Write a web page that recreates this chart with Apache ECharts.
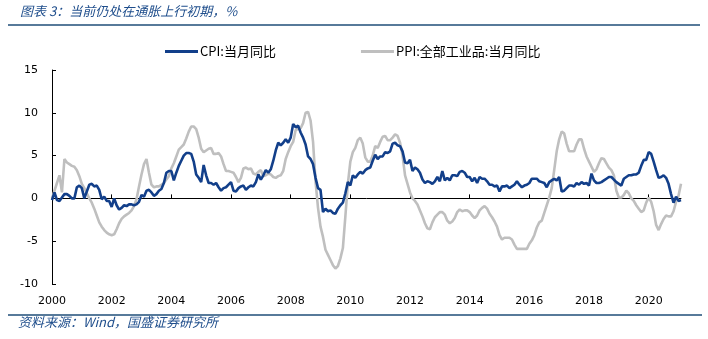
<!DOCTYPE html>
<html><head><meta charset="utf-8">
<script src="https://cdn.jsdelivr.net/npm/echarts@6/dist/echarts.min.js"></script>
<style>html,body{margin:0;padding:0;background:#fff}#c{width:708px;height:339px}</style>
</head><body><div id="c"></div>
<script>
const startYear = 2000;
const cpi = [
-0.2,0.7,-0.2,-0.3,0.1,0.5,0.5,0.3,0.0,0.0,1.3,1.5,
1.2,0.0,0.8,1.6,1.7,1.4,1.5,1.0,-0.1,0.2,-0.3,-0.3,
-1.0,0.0,-0.8,-1.3,-1.1,-0.8,-0.9,-0.7,-0.7,-0.8,-0.7,-0.4,
0.4,0.2,0.9,1.0,0.7,0.3,0.5,0.9,1.1,1.8,3.0,3.2,
3.2,2.1,3.0,3.8,4.4,5.0,5.3,5.3,5.2,4.3,2.8,2.4,
1.9,3.9,2.7,1.8,1.8,1.6,1.8,1.3,0.9,1.2,1.3,1.6,
1.9,0.9,0.8,1.2,1.4,1.5,1.0,1.3,1.5,1.4,1.9,2.8,
2.2,2.7,3.3,3.0,3.4,4.4,5.6,6.5,6.2,6.5,6.9,6.5,
7.1,8.7,8.3,8.5,7.7,7.1,6.3,4.9,4.6,4.0,2.4,1.2,
1.0,-1.6,-1.2,-1.5,-1.4,-1.7,-1.8,-1.2,-0.8,-0.5,0.6,1.9,
1.5,2.7,2.4,2.8,3.1,2.9,3.3,3.5,3.6,4.4,5.1,4.6,
4.9,4.9,5.4,5.3,5.5,6.4,6.5,6.2,6.1,5.5,4.2,4.1,
4.5,3.2,3.6,3.4,3.0,2.2,1.8,2.0,1.9,1.7,2.0,2.5,
2.0,3.2,2.1,2.4,2.1,2.7,2.7,2.6,3.1,3.2,3.0,2.5,
2.5,2.0,2.4,1.8,2.5,2.3,2.3,2.0,1.6,1.6,1.4,1.5,
0.8,1.4,1.4,1.5,1.2,1.4,1.6,2.0,1.6,1.3,1.5,1.6,
1.8,2.3,2.3,2.3,2.0,1.9,1.8,1.3,1.9,2.1,2.3,2.1,
2.5,0.8,0.9,1.2,1.5,1.5,1.4,1.8,1.6,1.9,1.7,1.8,
1.5,2.9,2.1,1.8,1.8,1.9,2.1,2.3,2.5,2.5,2.2,1.9,
1.7,1.5,2.3,2.5,2.7,2.7,2.8,2.8,3.0,3.8,4.5,4.5,
5.4,5.2,4.3,3.3,2.4,2.5,2.7,2.4,1.7,0.5,-0.5,0.2,
-0.3,-0.2
];
const ppi = [
0.0,0.9,1.8,2.7,0.7,4.6,4.2,4.0,3.8,3.7,3.3,2.6,
1.7,1.2,0.6,0.0,-0.5,-1.2,-2.0,-2.8,-3.3,-3.7,-4.0,-4.2,
-4.3,-4.2,-3.6,-2.9,-2.4,-2.1,-1.9,-1.7,-1.4,-0.9,-0.1,1.4,
2.8,4.0,4.6,3.0,1.6,1.3,1.4,1.4,1.6,1.8,2.2,2.6,
3.5,4.1,4.9,5.7,6.0,6.3,7.0,7.8,8.4,8.4,8.1,7.1,
5.8,5.4,5.6,5.8,5.9,5.2,5.2,5.3,4.9,4.0,3.2,3.2,
3.1,3.0,2.5,1.9,2.4,3.5,3.6,3.4,3.5,2.9,2.8,3.1,
3.3,2.6,2.7,2.9,2.8,2.5,2.4,2.6,2.7,3.2,4.6,5.4,
6.1,6.6,8.0,8.1,8.2,8.8,10.0,10.1,9.1,6.6,2.0,-1.1,
-3.3,-4.5,-6.0,-6.6,-7.2,-7.8,-8.2,-7.9,-7.0,-5.8,-2.1,1.7,
4.3,5.4,5.9,6.8,7.1,6.4,4.8,4.3,4.3,5.0,6.1,5.9,
6.6,7.2,7.3,6.8,6.8,7.1,7.5,7.3,6.5,5.0,2.7,1.7,
0.7,0.0,-0.3,-0.7,-1.4,-2.1,-2.9,-3.5,-3.6,-2.8,-2.2,-1.9,
-1.6,-1.6,-1.9,-2.6,-2.9,-2.7,-2.3,-1.6,-1.3,-1.5,-1.4,-1.4,
-1.6,-2.0,-2.3,-2.0,-1.4,-1.1,-0.9,-1.2,-1.8,-2.2,-2.7,-3.3,
-4.3,-4.8,-4.6,-4.6,-4.6,-4.8,-5.4,-5.9,-5.9,-5.9,-5.9,-5.9,
-5.3,-4.9,-4.3,-3.4,-2.8,-2.6,-1.7,-0.8,0.1,1.2,3.3,5.5,
6.9,7.8,7.6,6.4,5.5,5.5,5.5,6.3,6.9,6.9,5.8,4.9,
4.3,3.7,3.1,3.4,4.1,4.7,4.6,4.1,3.6,3.3,2.7,0.9,
0.1,0.1,0.4,0.9,0.6,0.0,-0.3,-0.8,-1.2,-1.6,-1.4,-0.5,
0.1,-0.4,-1.5,-3.1,-3.7,-3.0,-2.4,-2.0,-2.1,-2.1,-1.5,-0.4,
0.3,1.7
];
const months = cpi.map((_, i) => (startYear + Math.floor(i / 12)) + '-' + String(i % 12 + 1).padStart(2, '0'));
const yTicks = [-10, -5, 0, 5, 10, 15];
const seriesNames = ['CPI:当月同比', 'PPI:全部工业品:当月同比'];
const titleText = '图表 3：当前仍处在通胀上行初期，%';
const sourceText = '资料来源：Wind，国盛证券研究所';

const isTick = (idx) => idx % 24 === 0;
const chart = echarts.init(document.getElementById('c'), null, {renderer: 'canvas'});
const ruleColor = '#1f4e79';
chart.setOption({
  animation: false,
  backgroundColor: '#fff',
  graphic: [
    {type: 'text', left: 20, top: 5, style: {text: titleText, fill: '#1f4e8c', font: 'italic 13px "Noto Sans CJK SC", sans-serif'}},
    {type: 'line', shape: {x1: 8, y1: 25, x2: 700, y2: 25}, style: {stroke: ruleColor, lineWidth: 1.3}},
    {type: 'line', shape: {x1: 8, y1: 315, x2: 702, y2: 315}, style: {stroke: ruleColor, lineWidth: 1.3}},
    {type: 'text', left: 18, top: 316, style: {text: sourceText, fill: '#1f4e8c', font: 'italic 13px "Noto Sans CJK SC", sans-serif'}}
  ],
  legend: {
    data: seriesNames,
    left: 165, top: 45, padding: 0,
    itemWidth: 33, itemHeight: 3, itemGap: 85,
    icon: 'rect',
    textStyle: {fontFamily: '"Noto Sans CJK SC", sans-serif', fontSize: 13, color: '#000', padding: [0,0,0,-3]}
  },
  grid: {left: 52, right: 27, top: 70, bottom: 55, containLabel: false},
  xAxis: [
    {type: 'category', data: months, boundaryGap: false,
     axisLine: {onZero: true, lineStyle: {color: '#000', width: 1}},
     axisTick: {show: true, inside: true, length: 4, interval: (i) => isTick(i), lineStyle: {color: '#000'}},
     axisLabel: {show: false}, splitLine: {show: false}},
    {type: 'category', data: months, boundaryGap: false, position: 'bottom',
     axisLine: {show: false, onZero: false}, axisTick: {show: false},
     axisLabel: {interval: (i) => isTick(i), formatter: (v) => v.slice(0, 4), margin: 12,
       fontFamily: '"DejaVu Sans", sans-serif', fontSize: 11, color: '#000'},
     splitLine: {show: false}}
  ],
  yAxis: {
    type: 'value', min: yTicks[0], max: yTicks[yTicks.length - 1], interval: 5,
    axisLine: {show: true, onZero: false, lineStyle: {color: '#000', width: 1}},
    axisTick: {show: true, inside: true, length: 4, lineStyle: {color: '#000'}},
    axisLabel: {margin: 14, fontFamily: '"DejaVu Sans", sans-serif', fontSize: 11, color: '#000'},
    splitLine: {show: false}
  },
  series: [
    {name: seriesNames[1], type: 'line', data: ppi, xAxisIndex: 0, showSymbol: false, symbol: 'none',
     lineStyle: {color: '#bfbfbf', width: 2.6}, itemStyle: {color: '#bfbfbf'}},
    {name: seriesNames[0], type: 'line', data: cpi, xAxisIndex: 0, showSymbol: false, symbol: 'none',
     lineStyle: {color: '#123f8a', width: 2.6}, itemStyle: {color: '#123f8a'}}
  ]
});
</script></body></html>
